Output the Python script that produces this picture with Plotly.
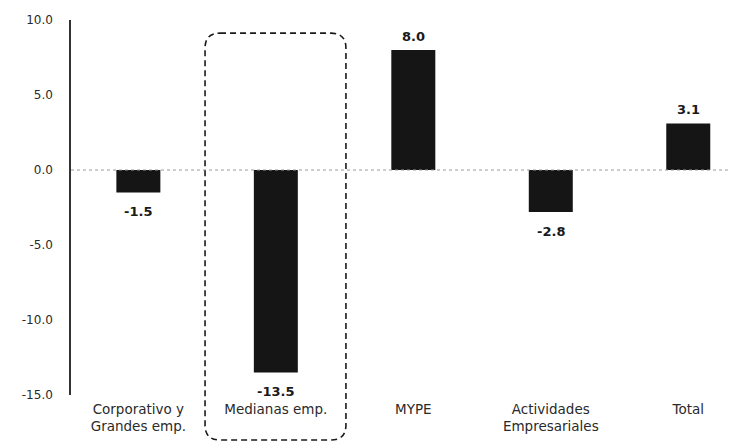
import plotly.graph_objects as go

categories = ["Corporativo y<br>Grandes emp.", "Medianas emp.", "MYPE", "Actividades<br>Empresariales", "Total"]
values = [-1.5, -13.5, 8.0, -2.8, 3.1]
ytick_vals = [10, 5, 0, -5, -10, -15]
ytick_text = ["10.0", "5.0", "0.0", "-5.0", "-10.0", "-15.0"]

W, H = 746, 445
ML, MR, MT, MB = 71, 0, 20, 50
xr = [-0.49, 4.42]
yr = [-15, 10]
FONT = "DejaVu Sans"

xs = list(range(len(categories)))

fig = go.Figure()
fig.add_trace(go.Bar(
    x=xs, y=values,
    width=0.32,
    marker=dict(color="#151515", line=dict(width=0)),
    cliponaxis=False,
))

# value labels
for xi, v in zip(xs, values):
    fig.add_annotation(x=xi, y=v, text=f"<b>{v:.1f}</b>", showarrow=False,
                       yanchor="middle", xanchor="center",
                       yshift=14 if v >= 0 else -19,
                       font=dict(size=13, color="#1a1a1a", family=FONT))

def xp(v):
    return (v - xr[0]) / (xr[1] - xr[0])

# zero line (dotted)
fig.add_shape(type="line", xref="paper", yref="y", x0=0, x1=0.975, y0=0, y1=0,
              line=dict(color="#9a9a9a", width=1, dash="dot"))

# dashed rounded box around highlighted category
x0, x1 = xp(1 - 0.515), xp(1 + 0.51)
y0, y1 = -0.12, 0.965
rx, ry = 15 / (W - ML - MR), 15 / (H - MT - MB)
path = (f"M {x0+rx},{y1} L {x1-rx},{y1} Q {x1},{y1} {x1},{y1-ry} "
        f"L {x1},{y0+ry} Q {x1},{y0} {x1-rx},{y0} "
        f"L {x0+rx},{y0} Q {x0},{y0} {x0},{y0+ry} "
        f"L {x0},{y1-ry} Q {x0},{y1} {x0+rx},{y1} Z")
fig.add_shape(type="path", xref="paper", yref="paper", path=path,
              line=dict(color="#1a1a1a", width=1.6, dash="6px,4px"))

fig.update_layout(
    width=W, height=H,
    margin=dict(l=ML, r=MR, t=MT, b=MB),
    paper_bgcolor="white", plot_bgcolor="white",
    showlegend=False,
    font=dict(family=FONT, size=12, color="#2a2a2a"),
    xaxis=dict(range=xr, tickmode="array", tickvals=xs,
               ticktext=categories, showgrid=False, zeroline=False, showline=False,
               ticks="", ticklabelstandoff=4,
               tickfont=dict(size=13.5, color="#2a2a2a", family=FONT)),
    yaxis=dict(range=yr, tickmode="array", tickvals=ytick_vals, ticktext=ytick_text,
               showgrid=False, zeroline=False, showline=True, linecolor="#333333",
               linewidth=1.5, ticks="", ticklabelstandoff=14,
               tickfont=dict(size=12, color="#2a2a2a", family=FONT)),
)

fig.write_html("out.html")
